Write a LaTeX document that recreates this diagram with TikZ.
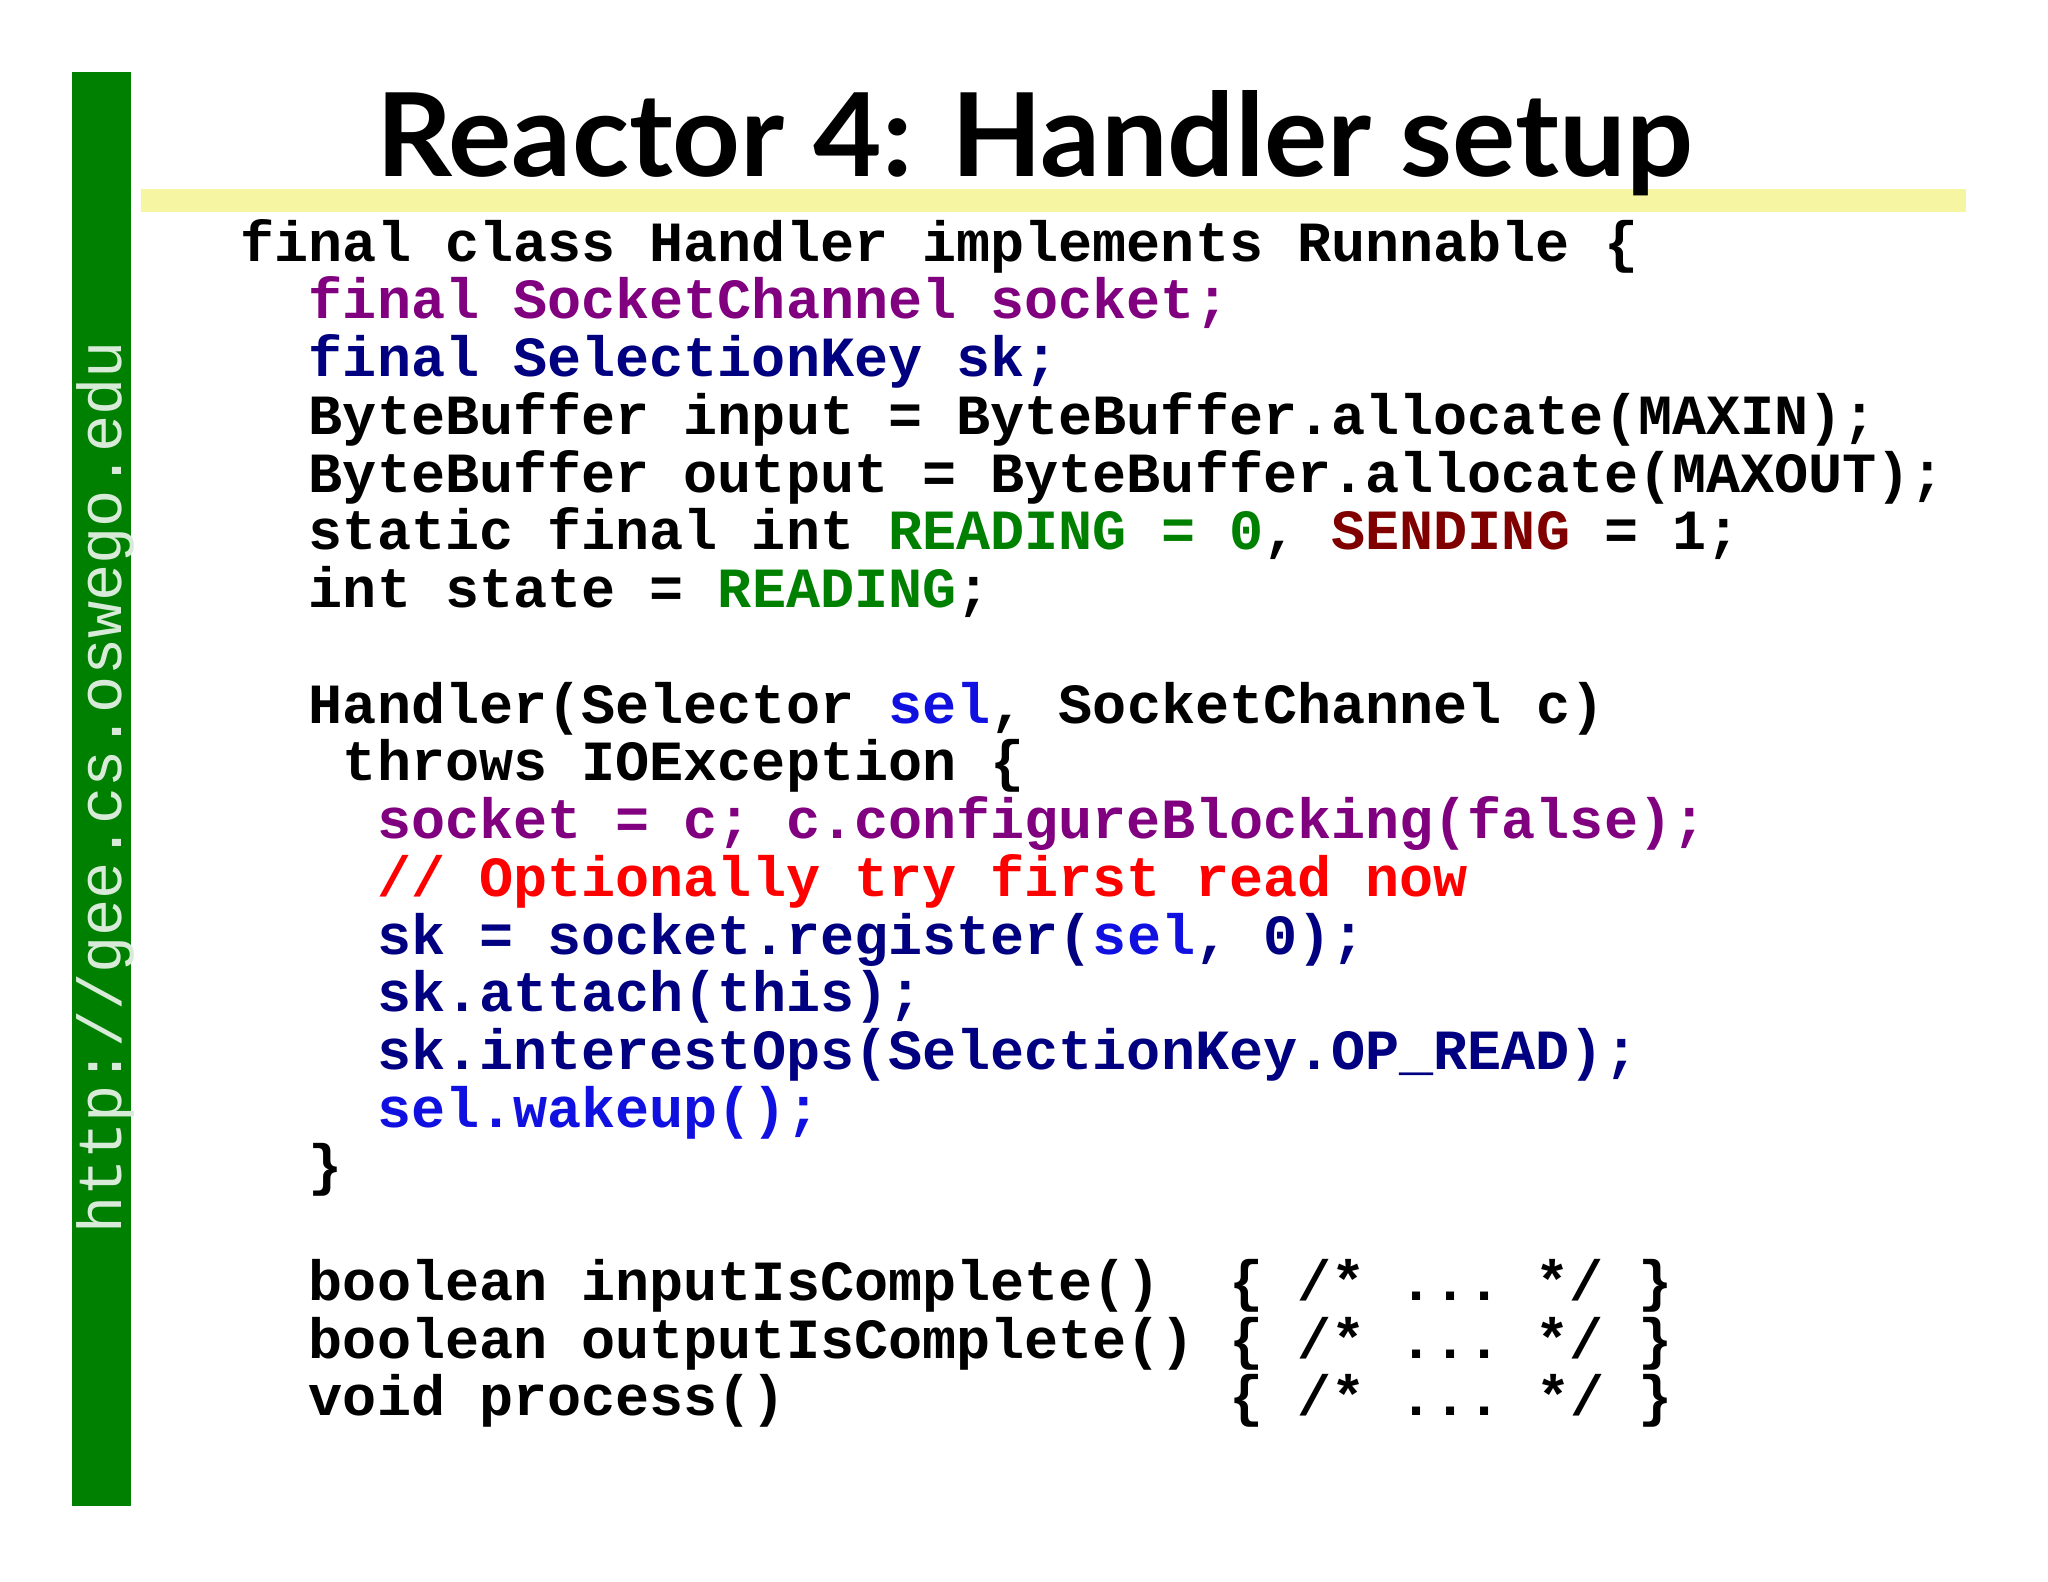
\documentclass[tikz,border=0pt]{standalone}
\usepackage{fontspec}
\newfontfamily\codefont{Liberation Mono}
\newfontfamily\titlefont{Lato}
\definecolor{cpurple}{HTML}{800080}
\definecolor{cnavy}{HTML}{000080}
\definecolor{cgreen}{HTML}{008000}
\definecolor{cdred}{HTML}{800000}
\definecolor{cblue}{HTML}{1010E0}
\definecolor{cred}{HTML}{FF0000}
\definecolor{barg}{HTML}{008000}
\definecolor{titlebarcol}{HTML}{F6F6A2}
\definecolor{urlc}{HTML}{D8EAD8}
\tikzset{codeline/.style={anchor=base west,inner sep=0pt,font=\codefont\bfseries\fontsize{28.4}{29}\selectfont}}
\begin{document}
\begin{tikzpicture}[x=0.653pt,y=-0.653pt]
\useasboundingbox (0,0) rectangle (1568,1211);
\fill[white] (0,0) rectangle (1568,1211);
\fill[barg] (55,55) rectangle (100,1153);
\node[rotate=90,anchor=base west,inner sep=0pt,text=urlc,font=\codefont\fontsize{31}{31}\selectfont] (url) at (93,945) {http://gee.cs.oswego.edu};
\fill[fill=titlebarcol] (108,145) rectangle (1505,162);
\node[anchor=base west,inner sep=0pt,font=\titlefont\bfseries] (title) at (288,135) {\resizebox{658pt}{43pt}{Reactor 4: Handler setup}};
\def\cx#1{184+#1*26.1}
\def\ly#1{200+#1*44.2}
\node[codeline] (l1) at ({\cx{0}},{\ly{0}}) {final~class~Handler~implements~Runnable~\{};
\node[codeline,text=cpurple] (l2) at ({\cx{2}},{\ly{1}}) {final~SocketChannel~socket;};
\node[codeline,text=cnavy] (l3) at ({\cx{2}},{\ly{2}}) {final~SelectionKey~sk;};
\node[codeline] (l4) at ({\cx{2}},{\ly{3}}) {ByteBuffer~input~=~ByteBuffer.allocate(MAXIN);};
\node[codeline] (l5) at ({\cx{2}},{\ly{4}}) {ByteBuffer~output~=~ByteBuffer.allocate(MAXOUT);};
\node[codeline] (l6) at ({\cx{2}},{\ly{5}}) {static~final~int~{\color{cgreen}READING~=~0},~{\color{cdred}SENDING}~=~1;};
\node[codeline] (l7) at ({\cx{2}},{\ly{6}}) {int~state~=~{\color{cgreen}READING};};
\node[codeline] (l9) at ({\cx{2}},{\ly{8}}) {Handler(Selector~{\color{cblue}sel},~SocketChannel~c)};
\node[codeline] (l10) at ({\cx{3}},{\ly{9}}) {throws~IOException~\{};
\node[codeline,text=cpurple] (l11) at ({\cx{4}},{\ly{10}}) {socket~=~c;~c.configureBlocking(false);};
\node[codeline,text=cred] (l12) at ({\cx{4}},{\ly{11}}) {//~Optionally~try~first~read~now};
\node[codeline,text=cnavy] (l13) at ({\cx{4}},{\ly{12}}) {sk~=~socket.register({\color{cblue}sel},~0);};
\node[codeline,text=cnavy] (l14) at ({\cx{4}},{\ly{13}}) {sk.attach(this);};
\node[codeline,text=cnavy] (l15) at ({\cx{4}},{\ly{14}}) {sk.interestOps(SelectionKey.OP\_READ);};
\node[codeline,text=cblue] (l16) at ({\cx{4}},{\ly{15}}) {sel.wakeup();};
\node[codeline] (l17) at ({\cx{2}},{\ly{16}}) {\}};
\node[codeline] (l19) at ({\cx{2}},{\ly{18}}) {boolean~inputIsComplete()~~\{~/*~...~*/~\}};
\node[codeline] (l20) at ({\cx{2}},{\ly{19}}) {boolean~outputIsComplete()~\{~/*~...~*/~\}};
\node[codeline] (l21) at ({\cx{2}},{\ly{20}}) {void~process()~~~~~~~~~~~~~\{~/*~...~*/~\}};
\end{tikzpicture}
\end{document}
